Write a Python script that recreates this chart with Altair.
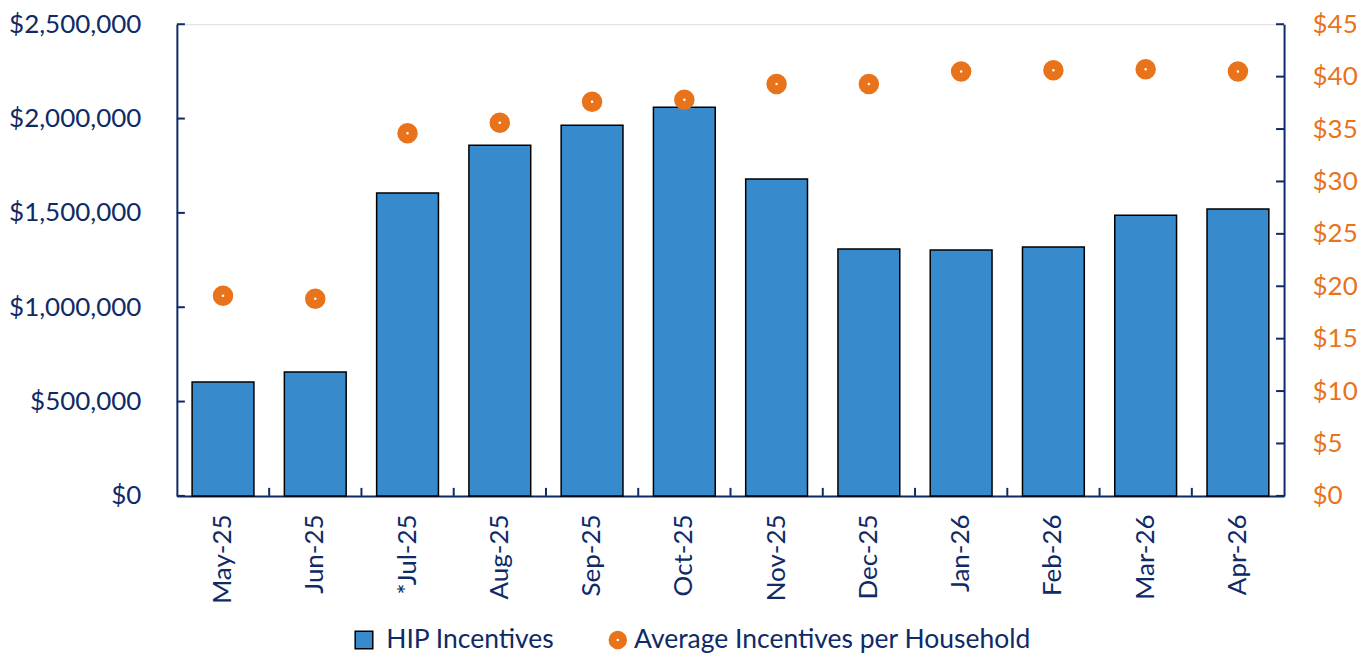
import altair as alt
import pandas as pd

months = ["May-25", "Jun-25", "*Jul-25", "Aug-25", "Sep-25", "Oct-25",
          "Nov-25", "Dec-25", "Jan-26", "Feb-26", "Mar-26", "Apr-26"]
hip_incentives = [604000, 657000, 1605000, 1859000, 1965000, 2060000,
                  1679000, 1308000, 1303000, 1319000, 1488000, 1520000]
avg_per_household = [19.1, 18.8, 34.6, 35.6, 37.6, 37.8,
                     39.3, 39.3, 40.5, 40.6, 40.7, 40.5]
left_ticks = [0, 500000, 1000000, 1500000, 2000000, 2500000]
right_ticks = [0, 5, 10, 15, 20, 25, 30, 35, 40, 45]
series = ["HIP Incentives", "Average Incentives per Household"]

NAVY = "#0F2A66"
BLUE = "#378ACB"
ORANGE = "#E8731A"
FONT = "Lato"
FS = 26
W, H = 1108, 472

bars_df = pd.DataFrame({"month": months, "value": hip_incentives, "series": series[0]})
pts_df = pd.DataFrame({"month": months, "value": avg_per_household, "series": series[1]})
lt_df = pd.DataFrame({"v": left_ticks})
rt_df = pd.DataFrame({"v": right_ticks})
xt_df = pd.DataFrame({"month": months[1:]})

xscale = alt.Scale(paddingInner=0.33, paddingOuter=0.165)
lscale = alt.Scale(domain=[0, 2500000])
rscale = alt.Scale(domain=[0, 45])

bar_legend = alt.Legend(
    title=None, orient="none", direction="horizontal", legendX=174, legendY=603,
    labelFontSize=26.5, labelColor=NAVY, labelFont=FONT, labelLimit=600, labelOffset=9,
    symbolType="square", symbolSize=310, symbolStrokeColor="black", symbolStrokeWidth=1.5,
)
pt_legend = alt.Legend(
    title=None, orient="none", direction="horizontal", legendX=428, legendY=603,
    labelFontSize=26.5, labelColor=NAVY, labelFont=FONT, labelLimit=600, labelOffset=3,
    symbolType="circle", symbolSize=110, symbolStrokeWidth=8, symbolFillColor="white",
)

xenc = alt.X("month:N", sort=months, scale=xscale,
             axis=alt.Axis(title=None, labelAngle=270, labelFontSize=FS, labelColor=NAVY,
                           labelFont=FONT, labelPadding=18, ticks=False,
                           domainColor=NAVY, domainWidth=2))

bars = alt.Chart(bars_df).mark_bar(stroke="black", strokeWidth=1.5).encode(
    x=xenc,
    y=alt.Y("value:Q", scale=lscale,
            axis=alt.Axis(title=None, orient="left", values=left_ticks, format="$,.0f",
                          labelFontSize=FS, labelColor=NAVY, labelFont=FONT,
                          labelPadding=36, ticks=False, grid=False,
                          domainColor=NAVY, domainWidth=2)),
    fill=alt.Fill("series:N", scale=alt.Scale(domain=[series[0]], range=[BLUE]),
                  legend=bar_legend),
)

points = alt.Chart(pts_df).mark_point(size=133, strokeWidth=9, opacity=1, fill="white",
                                      shape="circle").encode(
    x=alt.X("month:N", sort=months, scale=xscale),
    y=alt.Y("value:Q", scale=rscale,
            axis=alt.Axis(title=None, orient="right", values=right_ticks, format="$.0f",
                          labelFontSize=FS, labelColor=ORANGE, labelFont=FONT,
                          labelPadding=28, ticks=False, grid=False,
                          domainColor=NAVY, domainWidth=2)),
    stroke=alt.Stroke("series:N", scale=alt.Scale(domain=[series[1]], range=[ORANGE]),
                      legend=pt_legend),
)

lticks = alt.Chart(lt_df).mark_rule(color=NAVY, strokeWidth=2).encode(
    y=alt.Y("v:Q", scale=lscale, axis=None),
    x=alt.value(0), x2=alt.value(8),
)
rticks = alt.Chart(rt_df).mark_rule(color=NAVY, strokeWidth=2).encode(
    y=alt.Y("v:Q", scale=rscale, axis=None),
    x=alt.value(W - 8), x2=alt.value(W),
)
xticks = alt.Chart(xt_df).mark_rule(color=NAVY, strokeWidth=2, xOffset=-15.2).encode(
    x=alt.X("month:N", sort=months, scale=xscale, bandPosition=0),
    y=alt.value(H), y2=alt.value(H - 8),
)

chart = alt.layer(bars, points, lticks, rticks, xticks).resolve_scale(
    y="independent"
).properties(
    width=W, height=H,
    padding={"left": 0, "top": 3, "right": 5, "bottom": 4},
).configure_view(stroke=None).configure(font=FONT)

chart.save("out.html", embed_options={"renderer": "svg", "actions": False})
